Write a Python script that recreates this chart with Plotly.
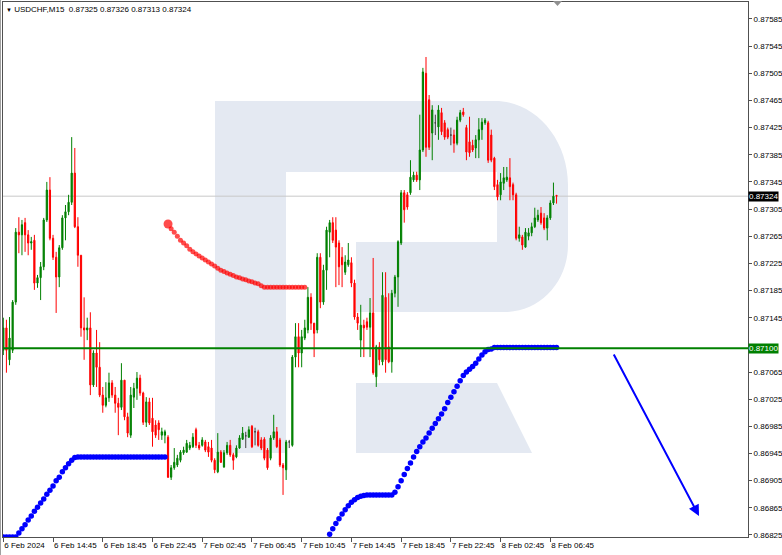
import plotly.graph_objects as go

# ---------------- data ----------------
tick_bars = [0, 16, 32, 48, 64, 80, 96, 112, 128, 144, 160, 176]
tick_labels = ["6 Feb 2024", "6 Feb 14:45", "6 Feb 18:45", "6 Feb 22:45", "7 Feb 02:45",
               "7 Feb 06:45", "7 Feb 10:45", "7 Feb 14:45", "7 Feb 18:45", "7 Feb 22:45",
               "8 Feb 02:45", "8 Feb 06:45"]
price_ticks = [0.86825, 0.86865, 0.86905, 0.86945, 0.86985, 0.87025, 0.87065, 0.87105,
               0.87145, 0.87185, 0.87225, 0.87265, 0.87305, 0.87345, 0.87385, 0.87425,
               0.87465, 0.87505, 0.87545, 0.87585]

opens = [0.87097, 0.87130, 0.87083, 0.87097, 0.87168, 0.87271, 0.87267, 0.87285, 0.87267, 0.87255,
         0.87259, 0.87196, 0.87204, 0.87220, 0.87289, 0.87333, 0.87262, 0.87234, 0.87205, 0.87248,
         0.87292, 0.87301, 0.87315, 0.87358, 0.87279, 0.87237, 0.87130, 0.87127, 0.87130, 0.87046,
         0.87093, 0.87072, 0.87031, 0.87016, 0.87027, 0.87049, 0.87031, 0.87019, 0.87013, 0.87053,
         0.86999, 0.86972, 0.87028, 0.87041, 0.87056, 0.87034, 0.86991, 0.87021, 0.86997, 0.86987,
         0.86990, 0.86972, 0.86972, 0.86969, 0.86910, 0.86924, 0.86928, 0.86935, 0.86946, 0.86947,
         0.86953, 0.86955, 0.86980, 0.86957, 0.86957, 0.86962, 0.86955, 0.86953, 0.86935, 0.86918,
         0.86947, 0.86925, 0.86946, 0.86957, 0.86943, 0.86940, 0.86953, 0.86966, 0.86971, 0.86969,
         0.86985, 0.86977, 0.86977, 0.86965, 0.86966, 0.86950, 0.86938, 0.86968, 0.86977, 0.86965,
         0.86928, 0.86921, 0.86962, 0.86957, 0.87087, 0.87117, 0.87093, 0.87115, 0.87127, 0.87175,
         0.87137, 0.87127, 0.87234, 0.87168, 0.87215, 0.87271, 0.87285, 0.87274, 0.87255, 0.87234,
         0.87212, 0.87223, 0.87226, 0.87196, 0.87146, 0.87112, 0.87134, 0.87139, 0.87131, 0.87152,
         0.87058, 0.87102, 0.87080, 0.87175, 0.87102, 0.87080, 0.87181, 0.87205, 0.87255, 0.87329,
         0.87326, 0.87329, 0.87348, 0.87355, 0.87348, 0.87392, 0.87505, 0.87466, 0.87417, 0.87432,
         0.87426, 0.87447, 0.87432, 0.87422, 0.87414, 0.87414, 0.87402, 0.87436, 0.87448, 0.87425,
         0.87404, 0.87399, 0.87395, 0.87407, 0.87422, 0.87432, 0.87432, 0.87414, 0.87380, 0.87341,
         0.87326, 0.87343, 0.87348, 0.87351, 0.87341, 0.87326, 0.87262, 0.87264, 0.87249, 0.87265,
         0.87270, 0.87279, 0.87289, 0.87299, 0.87292, 0.87277, 0.87292, 0.87314, 0.87325]

highs = [0.87145, 0.87142, 0.87146, 0.87171, 0.87277, 0.87293, 0.87289, 0.87292, 0.87274, 0.87264,
         0.87267, 0.87208, 0.87227, 0.87292, 0.87345, 0.87352, 0.87267, 0.87242, 0.87252, 0.87296,
         0.87311, 0.87326, 0.87411, 0.87395, 0.87293, 0.87237, 0.87175, 0.87145, 0.87153, 0.87097,
         0.87127, 0.87109, 0.87043, 0.87050, 0.87064, 0.87053, 0.87043, 0.87027, 0.87078, 0.87053,
         0.87005, 0.87043, 0.87049, 0.87065, 0.87061, 0.87036, 0.87028, 0.87027, 0.87027, 0.86994,
         0.86994, 0.86983, 0.86980, 0.86972, 0.86928, 0.86953, 0.86943, 0.86950, 0.86955, 0.86965,
         0.86962, 0.86975, 0.86983, 0.86962, 0.86969, 0.86965, 0.86962, 0.86965, 0.86938, 0.86975,
         0.86950, 0.86950, 0.86962, 0.86965, 0.86946, 0.86957, 0.86972, 0.86984, 0.86977, 0.86985,
         0.86987, 0.86983, 0.86980, 0.86969, 0.86969, 0.86953, 0.86972, 0.87002, 0.86984, 0.86968,
         0.86931, 0.86965, 0.86965, 0.87090, 0.87137, 0.87137, 0.87127, 0.87142, 0.87190, 0.87181,
         0.87137, 0.87240, 0.87240, 0.87223, 0.87279, 0.87289, 0.87293, 0.87293, 0.87259, 0.87249,
         0.87237, 0.87255, 0.87234, 0.87201, 0.87152, 0.87164, 0.87142, 0.87145, 0.87174, 0.87233,
         0.87105, 0.87109, 0.87212, 0.87212, 0.87181, 0.87186, 0.87208, 0.87259, 0.87333, 0.87333,
         0.87330, 0.87377, 0.87360, 0.87360, 0.87444, 0.87513, 0.87529, 0.87473, 0.87458, 0.87444,
         0.87458, 0.87454, 0.87436, 0.87425, 0.87425, 0.87422, 0.87441, 0.87451, 0.87454, 0.87429,
         0.87441, 0.87407, 0.87414, 0.87439, 0.87439, 0.87439, 0.87435, 0.87422, 0.87382, 0.87348,
         0.87358, 0.87367, 0.87367, 0.87380, 0.87344, 0.87329, 0.87279, 0.87267, 0.87277, 0.87277,
         0.87285, 0.87307, 0.87304, 0.87308, 0.87299, 0.87296, 0.87318, 0.87344, 0.87326]

lows = [0.87090, 0.87064, 0.87075, 0.87093, 0.87164, 0.87240, 0.87237, 0.87242, 0.87237, 0.87245,
        0.87186, 0.87189, 0.87171, 0.87215, 0.87286, 0.87259, 0.87230, 0.87152, 0.87190, 0.87245,
        0.87259, 0.87296, 0.87311, 0.87277, 0.87220, 0.87117, 0.87083, 0.87112, 0.87031, 0.87043,
        0.87043, 0.87028, 0.87005, 0.87013, 0.87021, 0.87027, 0.87005, 0.86972, 0.87009, 0.86994,
        0.86969, 0.86968, 0.87012, 0.87024, 0.87030, 0.86987, 0.86984, 0.86987, 0.86955, 0.86968,
        0.86965, 0.86965, 0.86960, 0.86909, 0.86906, 0.86921, 0.86925, 0.86932, 0.86943, 0.86946,
        0.86950, 0.86953, 0.86953, 0.86950, 0.86955, 0.86947, 0.86940, 0.86932, 0.86916, 0.86916,
        0.86931, 0.86924, 0.86943, 0.86940, 0.86921, 0.86938, 0.86952, 0.86965, 0.86953, 0.86968,
        0.86953, 0.86957, 0.86955, 0.86950, 0.86935, 0.86921, 0.86935, 0.86965, 0.86953, 0.86925,
        0.86884, 0.86906, 0.86953, 0.86955, 0.87072, 0.87072, 0.87072, 0.87112, 0.87122, 0.87127,
        0.87087, 0.87122, 0.87159, 0.87164, 0.87186, 0.87234, 0.87255, 0.87190, 0.87193, 0.87190,
        0.87208, 0.87220, 0.87190, 0.87142, 0.87127, 0.87087, 0.87087, 0.87127, 0.87087, 0.87061,
        0.87043, 0.87075, 0.87075, 0.87064, 0.87078, 0.87064, 0.87175, 0.87161, 0.87252, 0.87285,
        0.87304, 0.87326, 0.87345, 0.87345, 0.87333, 0.87389, 0.87382, 0.87392, 0.87377, 0.87414,
        0.87407, 0.87414, 0.87407, 0.87408, 0.87399, 0.87388, 0.87399, 0.87433, 0.87441, 0.87377,
        0.87382, 0.87389, 0.87380, 0.87380, 0.87407, 0.87429, 0.87373, 0.87374, 0.87333, 0.87318,
        0.87318, 0.87333, 0.87345, 0.87318, 0.87318, 0.87259, 0.87257, 0.87245, 0.87248, 0.87259,
        0.87265, 0.87277, 0.87286, 0.87282, 0.87274, 0.87259, 0.87289, 0.87311, 0.87313]

closes = [0.87130, 0.87097, 0.87115, 0.87168, 0.87271, 0.87267, 0.87282, 0.87267, 0.87255, 0.87257,
          0.87196, 0.87204, 0.87220, 0.87289, 0.87333, 0.87262, 0.87234, 0.87205, 0.87248, 0.87292,
          0.87301, 0.87315, 0.87358, 0.87279, 0.87237, 0.87130, 0.87127, 0.87130, 0.87046, 0.87093,
          0.87072, 0.87031, 0.87016, 0.87027, 0.87049, 0.87031, 0.87019, 0.87013, 0.87053, 0.86999,
          0.86975, 0.87031, 0.87041, 0.87056, 0.87034, 0.86991, 0.87021, 0.86990, 0.86977, 0.86972,
          0.86980, 0.86977, 0.86977, 0.86910, 0.86924, 0.86932, 0.86938, 0.86947, 0.86950, 0.86960,
          0.86957, 0.86969, 0.86957, 0.86953, 0.86965, 0.86950, 0.86947, 0.86935, 0.86921, 0.86947,
          0.86932, 0.86946, 0.86957, 0.86943, 0.86935, 0.86953, 0.86968, 0.86975, 0.86971, 0.86980,
          0.86955, 0.86977, 0.86957, 0.86953, 0.86938, 0.86924, 0.86968, 0.86977, 0.86955, 0.86928,
          0.86924, 0.86962, 0.86962, 0.87087, 0.87117, 0.87093, 0.87117, 0.87130, 0.87175, 0.87137,
          0.87122, 0.87234, 0.87168, 0.87215, 0.87274, 0.87285, 0.87259, 0.87249, 0.87220, 0.87223,
          0.87227, 0.87230, 0.87196, 0.87146, 0.87137, 0.87134, 0.87130, 0.87131, 0.87152, 0.87064,
          0.87102, 0.87083, 0.87178, 0.87083, 0.87080, 0.87181, 0.87205, 0.87257, 0.87329, 0.87304,
          0.87308, 0.87352, 0.87355, 0.87348, 0.87392, 0.87507, 0.87396, 0.87396, 0.87451, 0.87432,
          0.87451, 0.87419, 0.87411, 0.87411, 0.87414, 0.87402, 0.87436, 0.87447, 0.87444, 0.87389,
          0.87388, 0.87392, 0.87407, 0.87422, 0.87433, 0.87436, 0.87377, 0.87377, 0.87338, 0.87323,
          0.87345, 0.87351, 0.87352, 0.87338, 0.87326, 0.87262, 0.87267, 0.87252, 0.87271, 0.87270,
          0.87279, 0.87292, 0.87296, 0.87285, 0.87277, 0.87292, 0.87314, 0.87324, 0.87324]

# indicator dots (blue: rising support, red: falling resistance)
blue1_start = 0
blue1_values = [0.86822, 0.86822, 0.86822, 0.86822, 0.86822, 0.86828, 0.86834, 0.86840, 0.86847,
                0.86853, 0.86860, 0.86866, 0.86872, 0.86878, 0.86885, 0.86891, 0.86897, 0.86905,
                0.86910, 0.86918, 0.86924, 0.86930, 0.86935, 0.86939, 0.86940, 0.86940, 0.86940,
                0.86940, 0.86940, 0.86940, 0.86940, 0.86940, 0.86940, 0.86940, 0.86940, 0.86940,
                0.86940, 0.86940, 0.86940, 0.86940, 0.86940, 0.86940, 0.86940, 0.86940, 0.86940,
                0.86940, 0.86940, 0.86940, 0.86940, 0.86940, 0.86940, 0.86940, 0.86940]
red_start = 53
red_values = [0.87283, 0.87276, 0.87271, 0.87265, 0.87259, 0.87255, 0.87251, 0.87246, 0.87242,
              0.87239, 0.87236, 0.87233, 0.87230, 0.87227, 0.87224, 0.87221, 0.87218, 0.87215,
              0.87213, 0.87211, 0.87209, 0.87207, 0.87205, 0.87204, 0.87202, 0.87201, 0.87199,
              0.87198, 0.87196, 0.87195, 0.87192, 0.87190, 0.87190, 0.87190, 0.87190, 0.87190,
              0.87190, 0.87190, 0.87190, 0.87190, 0.87190, 0.87190, 0.87190, 0.87190, 0.87190]
blue2_start = 105
blue2_values = [0.86826, 0.86834, 0.86842, 0.86849, 0.86856, 0.86862, 0.86868, 0.86873, 0.86877,
                0.86880, 0.86882, 0.86883, 0.86884, 0.86884, 0.86884, 0.86884, 0.86884, 0.86884,
                0.86884, 0.86884, 0.86884, 0.86888, 0.86896, 0.86905, 0.86914, 0.86923, 0.86931,
                0.86940, 0.86948, 0.86955, 0.86962, 0.86968, 0.86975, 0.86982, 0.86989, 0.86996,
                0.87003, 0.87011, 0.87020, 0.87028, 0.87036, 0.87044, 0.87052, 0.87060, 0.87065,
                0.87069, 0.87073, 0.87078, 0.87084, 0.87090, 0.87095, 0.87098, 0.87099, 0.87101,
                0.87101, 0.87101, 0.87101, 0.87101, 0.87101, 0.87101, 0.87101, 0.87101, 0.87101,
                0.87101, 0.87101, 0.87101, 0.87101, 0.87101, 0.87101, 0.87101, 0.87101, 0.87101,
                0.87101, 0.87101]

bid_price = 0.87324
level_price = 0.87100
title_text = "USDCHF,M15\u00a0\u00a00.87325 0.87326 0.87313 0.87324"

# ---------------- figure ----------------
GREEN = "#008000"
RED = "#ff0000"
BLUE = "#0000ff"
FONT = "Liberation Sans, Arial, sans-serif"

W, H = 782, 555
ML, MR, MT, MB = 3, 34, 2, 18
PW, PH = W - ML - MR, H - MT - MB


def px(x):
    return (x - ML) / PW


def py(y):
    return (H - MB - y) / PH


def path(cmds):
    out = []
    for c in cmds:
        if isinstance(c, str):
            out.append(c)
        else:
            out.append("%.5f,%.5f" % (px(c[0]), py(c[1])))
    return " ".join(out)


bars = list(range(len(opens)))
normal = [i for i in bars if opens[i] != closes[i]]
doji = [i for i in bars if opens[i] == closes[i]]

fig = go.Figure()
fig.add_trace(go.Candlestick(
    x=[bars[i] for i in normal],
    open=[opens[i] for i in normal], high=[highs[i] for i in normal],
    low=[lows[i] for i in normal], close=[closes[i] for i in normal],
    increasing=dict(line=dict(color=GREEN, width=1), fillcolor=GREEN),
    decreasing=dict(line=dict(color=RED, width=1), fillcolor=RED),
    whiskerwidth=0, hoverinfo="skip"))
fig.add_trace(go.Candlestick(
    x=[bars[i] for i in doji],
    open=[opens[i] for i in doji], high=[highs[i] for i in doji],
    low=[lows[i] for i in doji], close=[closes[i] for i in doji],
    increasing=dict(line=dict(color="#404040", width=1), fillcolor="#404040"),
    decreasing=dict(line=dict(color="#404040", width=1), fillcolor="#404040"),
    whiskerwidth=0, hoverinfo="skip"))

fig.add_trace(go.Scatter(
    x=[blue1_start + k for k in range(len(blue1_values))], y=blue1_values,
    mode="markers", marker=dict(color=BLUE, size=5.5, line=dict(width=0)), hoverinfo="skip"))
fig.add_trace(go.Scatter(
    x=[blue2_start + k for k in range(len(blue2_values))], y=blue2_values,
    mode="markers", marker=dict(color=BLUE, size=5.5, line=dict(width=0)), hoverinfo="skip"))
fig.add_trace(go.Scatter(
    x=[red_start + k for k in range(len(red_values))], y=red_values,
    mode="markers",
    marker=dict(color=RED, size=[9] + [5] * (len(red_values) - 1), line=dict(width=0)),
    hoverinfo="skip"))

shapes = []
# watermark logo
shapes.append(dict(type="path", xref="paper", yref="paper", layer="below",
                   fillcolor="#e4e9f2", line=dict(width=0),
                   path=path(["M", (215, 101), "L", (495, 101), "C", (535, 101), (568, 139), (568, 185),
                              "L", (568, 245), "C", (568, 282), (540, 312), (505, 312),
                              "L", (356, 312), "L", (356, 242), "L", (497, 242), "L", (497, 172),
                              "L", (286, 172), "L", (286, 453), "L", (215, 453), "Z"])))
shapes.append(dict(type="path", xref="paper", yref="paper", layer="below",
                   fillcolor="#e4e9f2", line=dict(width=0),
                   path=path(["M", (356, 383), "L", (497, 383), "L", (532, 453), "L", (356, 453), "Z"])))
# bid line
shapes.append(dict(type="line", xref="paper", yref="y", x0=0, x1=1, y0=bid_price, y1=bid_price,
                   layer="below", line=dict(color="#c8c8c8", width=1)))
# horizontal level
shapes.append(dict(type="line", xref="paper", yref="y", x0=0, x1=1, y0=level_price, y1=level_price,
                   layer="above", line=dict(color=GREEN, width=2)))
# outer left frame line
shapes.append(dict(type="line", xref="paper", yref="paper", x0=px(0.5), x1=px(0.5),
                   y0=py(H), y1=py(0), line=dict(color="#a0a0a0", width=1)))
# chart shift marker
shapes.append(dict(type="path", xref="paper", yref="paper", fillcolor="#909090", line=dict(width=0),
                   path=path(["M", (553, 1), "L", (562, 1), "L", (557.5, 6), "Z"])))

annotations = [
    dict(xref="paper", yref="paper", x=px(4), y=py(9), xanchor="left", yanchor="middle",
         showarrow=False, align="left",
         text="<span style='font-size:6px'>\u25bc</span>\u00a0" + title_text,
         font=dict(family=FONT, size=8, color="#000000")),
    dict(xref="paper", yref="y", x=1, y=bid_price, xanchor="left", yanchor="middle",
         showarrow=False, text="%.5f" % bid_price, bgcolor="#000000", borderpad=0,
         font=dict(family=FONT, size=8, color="#ffffff")),
    dict(xref="paper", yref="y", x=1, y=level_price, xanchor="left", yanchor="middle",
         showarrow=False, text="%.5f" % level_price, bgcolor=GREEN, borderpad=0,
         font=dict(family=FONT, size=8, color="#ffffff")),
    dict(xref="paper", yref="paper", x=px(699), y=py(516), ax=613 - 699, ay=353 - 516,
         axref="pixel", ayref="pixel", text="", showarrow=True, arrowhead=2, arrowsize=1.1,
         arrowwidth=2, arrowcolor=BLUE, standoff=0, startstandoff=0),
]

# the 0.87105 label sits under the level box, as in the terminal
y_tick_text = ["" if abs(v - level_price) < 0.0001 else "%.5f" % v for v in price_ticks]

fig.update_layout(
    width=W, height=H, margin=dict(l=ML, r=MR, t=MT, b=MB, autoexpand=False),
    paper_bgcolor="#ffffff", plot_bgcolor="#ffffff", showlegend=False,
    boxgap=0.45,
    font=dict(family=FONT, size=8, color="#000000"),
    shapes=shapes, annotations=annotations,
    xaxis=dict(range=[-0.1, 239.6], rangeslider=dict(visible=False), showgrid=False,
               zeroline=False, showline=True, linecolor="#505050", linewidth=1, mirror=True,
               ticks="outside", ticklen=4, tickcolor="#505050", tickvals=tick_bars,
               ticktext=tick_labels, ticklabelposition="outside right", tickangle=0,
               automargin=False,
               tickfont=dict(family=FONT, size=8, color="#000000")),
    yaxis=dict(range=[0.86822, 0.87610], side="right", showgrid=False, zeroline=False,
               showline=True, linecolor="#505050", linewidth=1, mirror=True,
               ticks="outside", ticklen=3, tickcolor="#505050", tickvals=price_ticks,
               ticktext=y_tick_text, automargin=False,
               tickfont=dict(family=FONT, size=8, color="#000000")),
)

fig.write_html("out.html",
               config={"displayModeBar": False},
               post_script="document.body.style.margin='0';document.body.style.padding='0';"
                           "document.body.style.overflow='hidden';")
